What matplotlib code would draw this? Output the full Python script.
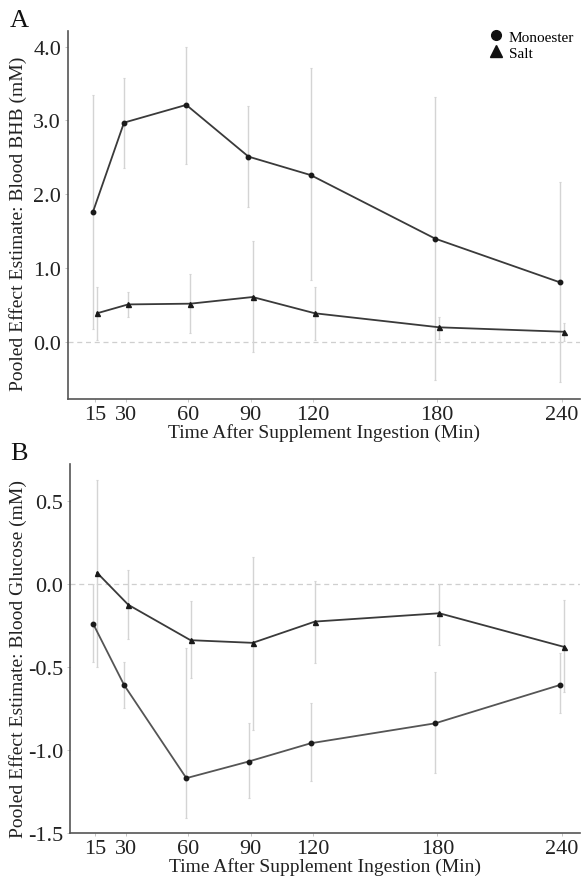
import matplotlib
matplotlib.use("Agg")
import matplotlib.pyplot as plt
from matplotlib.lines import Line2D

plt.rcParams['font.family'] = ['Liberation Serif', 'DejaVu Serif']
plt.rcParams['axes.unicode_minus'] = False

times = [15, 30, 60, 90, 120, 180, 240]
xtick_labels = ["15", "30", "60", "90", "120", "180", "240"]

# Panel A: Blood BHB (mM)
bhb_mono = [1.76, 2.97, 3.21, 2.51, 2.26, 1.40, 0.81]
bhb_mono_lo = [0.18, 2.35, 2.41, 1.83, 0.84, -0.51, -0.54]
bhb_mono_hi = [3.35, 3.57, 4.00, 3.19, 3.71, 3.32, 2.17]
bhb_salt = [0.39, 0.51, 0.52, 0.61, 0.39, 0.20, 0.14]
bhb_salt_lo = [0.03, 0.34, 0.12, -0.14, 0.03, 0.04, 0.02]
bhb_salt_hi = [0.74, 0.68, 0.92, 1.37, 0.74, 0.34, 0.26]
bhb_yticks = [0, 1, 2, 3, 4]
bhb_ytick_labels = ["0.0", "1.0", "2.0", "3.0", "4.0"]

# Panel B: Blood Glucose (mM)
glu_mono = [-0.24, -0.61, -1.17, -1.07, -0.96, -0.84, -0.61]
glu_mono_lo = [-0.47, -0.75, -1.41, -1.29, -1.19, -1.14, -0.78]
glu_mono_hi = [0.00, -0.47, -0.385, -0.84, -0.72, -0.53, -0.42]
glu_salt = [0.065, -0.127, -0.34, -0.356, -0.228, -0.178, -0.38]
glu_salt_lo = [-0.50, -0.33, -0.57, -0.88, -0.48, -0.37, -0.65]
glu_salt_hi = [0.626, 0.085, -0.107, 0.16, 0.014, 0.0, -0.097]
glu_yticks = [-1.5, -1.0, -0.5, 0.0, 0.5]
glu_ytick_labels = ["-1.5", "-1.0", "-0.5", "0.0", "0.5"]

series_labels = ["Monoester", "Salt"]

dodge = 1.0
W, H = 582, 878
fig = plt.figure(figsize=(W / 100, H / 100), dpi=100)

def px_axes(l, t, r, b):
    return fig.add_axes([l / W, 1 - b / H, (r - l) / W, (b - t) / H])

axA = px_axes(68, 32, 580, 400)
axB = px_axes(70, 465, 580, 834)

err_col = '#d4d4d4'
line_col = '#3a3a3a'
txt_col = '#222222'

def draw(ax, mono, mlo, mhi, salt, slo, shi, mono_col, salt_col):
    xm = [t - dodge for t in times]
    xs = [t + dodge for t in times]
    ax.axhline(0, color='#cfcfcf', lw=0.9, ls=(0, (4, 3)), zorder=0)
    ax.errorbar(xm, mono, yerr=[[m - l for m, l in zip(mono, mlo)], [h - m for m, h in zip(mono, mhi)]],
                fmt='none', ecolor=err_col, elinewidth=1.0, capsize=1, capthick=0.8, zorder=1)
    ax.errorbar(xs, salt, yerr=[[s - l for s, l in zip(salt, slo)], [h - s for s, h in zip(salt, shi)]],
                fmt='none', ecolor=err_col, elinewidth=1.0, capsize=1, capthick=0.8, zorder=1)
    ax.plot(xm, mono, color=mono_col, lw=1.3, marker='o', ms=3.2, mfc='#1a1a1a', mec='#1a1a1a', zorder=3)
    ax.plot(xs, salt, color=salt_col, lw=1.3, marker='^', ms=3.6, mfc='#1a1a1a', mec='#1a1a1a', zorder=3)
    for s in ['top', 'right']:
        ax.spines[s].set_visible(False)
    for s in ['left', 'bottom']:
        ax.spines[s].set_color('#555555')
        ax.spines[s].set_linewidth(1.2)
    ax.set_xticks(times)
    ax.set_xticklabels(xtick_labels)
    ax.tick_params(axis='both', labelsize=16, length=2, width=0.6, color='#bbbbbb', pad=3,
                   labelcolor=txt_col)
    ax.tick_params(axis='x', pad=2)
    ax.set_xlabel("Time After Supplement Ingestion (Min)", fontsize=14, color=txt_col, labelpad=0)

draw(axA, bhb_mono, bhb_mono_lo, bhb_mono_hi, bhb_salt, bhb_salt_lo, bhb_salt_hi, line_col, line_col)
axA.set_xlim(2.0, 248.8)
axA.set_ylim(-0.77, 4.21)
axA.set_yticks(bhb_yticks)
axA.set_yticklabels(bhb_ytick_labels)

draw(axB, glu_mono, glu_mono_lo, glu_mono_hi, glu_salt, glu_salt_lo, glu_salt_hi, '#555555', line_col)
axB.set_xlim(2.9, 248.8)
axB.set_ylim(-1.5, 0.72)
axB.set_yticks(glu_yticks)
axB.set_yticklabels(glu_ytick_labels)

fig.text(18 / W, 1 - 224 / H, "Pooled Effect Estimate: Blood BHB (mM)", rotation=90,
         fontsize=14, color=txt_col, ha='center', va='center')
fig.text(18 / W, 1 - 659 / H, "Pooled Effect Estimate: Blood Glucose (mM)", rotation=90,
         fontsize=14, color=txt_col, ha='center', va='center')

fig.text(10 / W, 1 - 21 / H, "A", fontsize=19, va='center', ha='left', color='#111111')
fig.text(10 / W, 1 - 454 / H, "B", fontsize=19, va='center', ha='left', color='#111111')

handles = [Line2D([], [], ls='none', marker='o', ms=7, color='#111111'),
           Line2D([], [], ls='none', marker='^', ms=8, color='#111111')]
fig.legend(handles, series_labels, loc='upper left', bbox_to_anchor=(489 / W, 1 - 31 / H),
           frameon=False, fontsize=11, handletextpad=0.4, labelspacing=0.15,
           handlelength=0.9, borderpad=0, borderaxespad=0)

fig.savefig("out.png", dpi=100)
